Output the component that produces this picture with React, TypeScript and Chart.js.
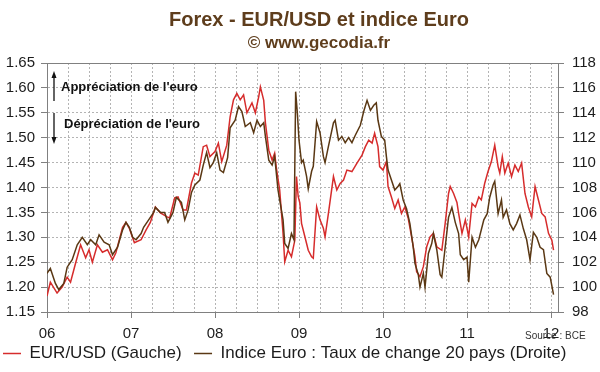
import React, { useEffect, useRef } from "react";
import { Chart, registerables } from "chart.js";

Chart.register(...registerables);

const titleText = "Forex - EUR/USD et indice Euro";
const subtitleText = "© www.gecodia.fr";
const upNote = "Appréciation de l'euro";
const downNote = "Dépréciation de l'euro";
const sourceText = "Source : BCE";
const legendLeft = "EUR/USD (Gauche)";
const legendRight = "Indice Euro : Taux de change 20 pays (Droite)";

const yearLabels = ["06", "07", "08", "09", "10", "11", "12"];
const firstYear = 2006;
const quartersPerYear = 4;

const eurUsdDates = [
  2006.0, 2006.04, 2006.12, 2006.18, 2006.24, 2006.28, 2006.34, 2006.4, 2006.46, 2006.5,
  2006.54, 2006.6, 2006.66, 2006.72, 2006.78, 2006.82, 2006.9, 2006.94, 2006.98, 2007.04,
  2007.12, 2007.18, 2007.23, 2007.29, 2007.35, 2007.43, 2007.46, 2007.52, 2007.56, 2007.62,
  2007.66, 2007.72, 2007.76, 2007.8, 2007.86, 2007.9, 2007.94, 2008.0, 2008.04, 2008.08,
  2008.14, 2008.18, 2008.22, 2008.26, 2008.3, 2008.34, 2008.38, 2008.44, 2008.48, 2008.52,
  2008.54, 2008.58, 2008.6, 2008.64, 2008.68, 2008.71, 2008.73, 2008.77, 2008.81, 2008.83,
  2008.87, 2008.91, 2008.95, 2008.97, 2008.99, 2009.01, 2009.03, 2009.07, 2009.11, 2009.15,
  2009.17, 2009.21, 2009.25, 2009.29, 2009.31, 2009.35, 2009.41, 2009.45, 2009.49, 2009.53,
  2009.57, 2009.63, 2009.69, 2009.75, 2009.79, 2009.83, 2009.87, 2009.9, 2009.94, 2009.96,
  2010.0, 2010.04, 2010.06, 2010.1, 2010.14, 2010.18, 2010.22, 2010.26, 2010.3, 2010.34,
  2010.38, 2010.4, 2010.44, 2010.48, 2010.52, 2010.56, 2010.6, 2010.64, 2010.7, 2010.74,
  2010.78, 2010.8, 2010.84, 2010.88, 2010.9, 2010.94, 2010.98, 2011.02, 2011.06, 2011.1,
  2011.14, 2011.17, 2011.21, 2011.25, 2011.29, 2011.33, 2011.37, 2011.39, 2011.42, 2011.45,
  2011.49, 2011.53, 2011.57, 2011.61, 2011.65, 2011.69, 2011.73, 2011.77, 2011.81, 2011.85,
  2011.89, 2011.93, 2011.97, 2012.01, 2012.03,
];
const eurUsdValues = [
  1.182, 1.21, 1.188, 1.2, 1.22, 1.21, 1.248, 1.285, 1.259, 1.275,
  1.25, 1.285, 1.27, 1.275, 1.255, 1.269, 1.32, 1.33, 1.318, 1.289,
  1.295, 1.315, 1.33, 1.361, 1.349, 1.341, 1.339, 1.379, 1.381, 1.355,
  1.355, 1.409, 1.429, 1.425, 1.482, 1.485, 1.462, 1.472, 1.489, 1.452,
  1.485, 1.542, 1.576, 1.589, 1.576, 1.586, 1.55, 1.57, 1.55, 1.582,
  1.602, 1.575, 1.53, 1.475, 1.455, 1.469, 1.44, 1.395, 1.308, 1.251,
  1.274, 1.261, 1.294, 1.422, 1.382, 1.369, 1.328, 1.301, 1.274, 1.261,
  1.258, 1.361, 1.335, 1.318, 1.301, 1.348, 1.422, 1.395, 1.408, 1.415,
  1.435, 1.432, 1.449, 1.465, 1.482, 1.495, 1.489, 1.509, 1.482, 1.442,
  1.435, 1.452, 1.402, 1.381, 1.358, 1.375, 1.348, 1.361, 1.338, 1.301,
  1.261, 1.231, 1.221, 1.241, 1.281, 1.301, 1.308, 1.281, 1.274, 1.328,
  1.388, 1.402, 1.388, 1.37, 1.348, 1.308, 1.335, 1.301, 1.368, 1.361,
  1.381, 1.375, 1.408, 1.432, 1.452, 1.485, 1.442, 1.429, 1.462, 1.429,
  1.449, 1.422, 1.445, 1.432, 1.449, 1.388, 1.361, 1.341, 1.402, 1.375,
  1.348, 1.341, 1.308, 1.294, 1.274,
];

const indexDates = [
  2006.0, 2006.04, 2006.1, 2006.14, 2006.2, 2006.24, 2006.3, 2006.36, 2006.42, 2006.48,
  2006.52, 2006.58, 2006.62, 2006.68, 2006.74, 2006.78, 2006.84, 2006.9, 2006.94, 2006.98,
  2007.02, 2007.06, 2007.12, 2007.15, 2007.21, 2007.27, 2007.29, 2007.35, 2007.4, 2007.44,
  2007.5, 2007.54, 2007.6, 2007.64, 2007.68, 2007.72, 2007.76, 2007.82, 2007.86, 2007.9,
  2007.94, 2007.98, 2008.02, 2008.06, 2008.1, 2008.15, 2008.18, 2008.24, 2008.28, 2008.32,
  2008.36, 2008.42, 2008.46, 2008.5, 2008.54, 2008.58, 2008.6, 2008.64, 2008.68, 2008.71,
  2008.75, 2008.77, 2008.81, 2008.83, 2008.87, 2008.91, 2008.94, 2008.96, 2008.98, 2009.0,
  2009.03, 2009.05, 2009.09, 2009.11, 2009.15, 2009.17, 2009.21, 2009.25, 2009.29, 2009.31,
  2009.35, 2009.41, 2009.43, 2009.47, 2009.51, 2009.55, 2009.59, 2009.63, 2009.67, 2009.73,
  2009.77, 2009.81, 2009.85, 2009.89, 2009.92, 2009.94, 2009.98, 2010.02, 2010.04, 2010.06,
  2010.1, 2010.14, 2010.18, 2010.2, 2010.24, 2010.28, 2010.32, 2010.36, 2010.38, 2010.42,
  2010.44, 2010.48, 2010.5, 2010.54, 2010.58, 2010.6, 2010.64, 2010.68, 2010.7, 2010.74,
  2010.78, 2010.82, 2010.86, 2010.9, 2010.92, 2010.96, 2011.0, 2011.02, 2011.06, 2011.1,
  2011.14, 2011.2, 2011.24, 2011.27, 2011.31, 2011.33, 2011.37, 2011.41, 2011.43, 2011.47,
  2011.51, 2011.55, 2011.59, 2011.63, 2011.67, 2011.71, 2011.75, 2011.79, 2011.83, 2011.87,
  2011.91, 2011.95, 2011.99, 2012.03,
];
const indexValues = [
  101.1, 101.5, 100.3, 99.8, 100.3, 101.6, 102.2, 103.4, 104.0, 103.4,
  103.8, 103.4, 104.2, 103.6, 103.4, 102.6, 103.2, 104.6, 105.2, 104.8,
  104.0, 103.8, 104.3, 104.8, 105.4, 106.0, 106.4, 106.0, 106.0, 105.2,
  106.0, 107.2, 106.8, 105.4, 106.2, 107.6, 108.2, 108.6, 109.8, 110.8,
  109.6, 110.0, 110.8, 109.4, 109.2, 110.4, 112.8, 113.4, 114.5, 114.1,
  112.9, 113.2, 112.4, 113.4, 112.9, 113.2, 112.1, 110.2, 109.8, 110.5,
  107.8, 107.0, 105.4, 103.5, 103.1, 104.3, 103.8, 115.7, 114.0, 111.8,
  110.0, 110.2, 108.9, 107.9, 109.3, 109.7, 113.3, 112.4, 110.5, 110.0,
  111.3, 113.2, 113.4, 111.8, 112.1, 111.6, 112.0, 111.6, 112.2, 113.0,
  114.1, 115.0, 114.2, 114.6, 114.8, 113.4, 112.1, 111.8, 110.5, 109.4,
  108.6, 107.8, 108.1, 108.3, 107.0, 106.3, 105.1, 103.2, 101.9, 101.0,
  100.0, 101.1, 100.0, 102.7, 103.5, 104.3, 103.0, 101.0, 100.8, 103.2,
  105.6, 106.4, 105.2, 104.3, 102.6, 102.2, 102.4, 100.4, 104.0, 103.2,
  103.8, 105.4, 105.9, 107.2, 108.2, 108.5, 105.9, 107.0, 105.6, 106.2,
  105.1, 104.6, 105.1, 105.8, 104.7, 103.8, 102.2, 104.4, 104.0, 103.2,
  103.0, 101.1, 100.8, 99.4,
];

const FONT = "'Liberation Sans', Arial, Helvetica, sans-serif";
const RED = "#d62c2c";
const BROWN = "#5a3814";
const TITLE_COLOR = "#5e3d1c";
const AXIS_COLOR = "#808080";
const GRID_COLOR = "#b4b4b4";
const TEXT_COLOR = "#1c1c1c";

const isYear = (v: number) => Math.abs(v - Math.round(v)) < 1e-6;

const decorPlugin = {
  id: "decor",
  afterDraw(chart: any) {
    const { ctx, chartArea } = chart;
    ctx.save();
    // top frame line
    ctx.strokeStyle = AXIS_COLOR;
    ctx.lineWidth = 1;
    ctx.beginPath();
    ctx.moveTo(chartArea.left, chartArea.top + 0.5);
    ctx.lineTo(chartArea.right, chartArea.top + 0.5);
    ctx.stroke();

    // titles
    ctx.fillStyle = TITLE_COLOR;
    ctx.textAlign = "center";
    ctx.textBaseline = "middle";
    ctx.font = `bold 20px ${FONT}`;
    ctx.fillText(titleText, 319, 20);
    ctx.font = `bold 17px ${FONT}`;
    ctx.fillText(subtitleText, 319, 43);

    // notes
    const ax = chartArea.left + 7;
    ctx.fillStyle = "#111";
    ctx.strokeStyle = "#111";
    ctx.lineWidth = 1.3;
    ctx.textAlign = "left";
    ctx.font = `bold 13px ${FONT}`;
    ctx.fillText(upNote, chartArea.left + 14, 87);
    ctx.fillText(downNote, chartArea.left + 17, 124);
    ctx.beginPath();
    ctx.moveTo(ax, 101);
    ctx.lineTo(ax, 76);
    ctx.stroke();
    ctx.beginPath();
    ctx.moveTo(ax, 71);
    ctx.lineTo(ax - 2.5, 78);
    ctx.lineTo(ax + 2.5, 78);
    ctx.closePath();
    ctx.fill();
    ctx.beginPath();
    ctx.moveTo(ax, 113);
    ctx.lineTo(ax, 138);
    ctx.stroke();
    ctx.beginPath();
    ctx.moveTo(ax, 144);
    ctx.lineTo(ax - 2.5, 137);
    ctx.lineTo(ax + 2.5, 137);
    ctx.closePath();
    ctx.fill();

    // source
    ctx.fillStyle = "#333";
    ctx.font = `10px ${FONT}`;
    ctx.fillText(sourceText, 525, 336);
    ctx.restore();
  },
};

export default function App() {
  const canvasRef = useRef<HTMLCanvasElement | null>(null);

  useEffect(() => {
    document.body.style.margin = "0";
    const canvas = canvasRef.current;
    if (!canvas) return;

    const eurData = eurUsdDates.map((d, i) => ({ x: d, y: eurUsdValues[i] }));
    const idxData = indexDates.map((d, i) => ({ x: d, y: indexValues[i] }));
    const lastYear = firstYear + yearLabels.length - 1;
    const quarterTicks: { value: number }[] = [];
    for (let k = 0; k <= (lastYear - firstYear) * quartersPerYear; k++) {
      quarterTicks.push({ value: firstYear + k / quartersPerYear });
    }

    const chart = new Chart(canvas, {
      type: "line",
      data: {
        datasets: [
          {
            label: legendLeft + "  ",
            data: eurData,
            borderColor: RED,
            backgroundColor: RED,
            borderWidth: 1.5,
            pointRadius: 0,
            tension: 0,
            yAxisID: "y",
            order: 2,
          },
          {
            label: legendRight,
            data: idxData,
            borderColor: BROWN,
            backgroundColor: BROWN,
            borderWidth: 1.5,
            pointRadius: 0,
            tension: 0,
            yAxisID: "y1",
            order: 1,
          },
        ],
      },
      options: {
        responsive: false,
        animation: false,
        events: [],
        layout: { padding: { top: 63, left: 0, right: 0, bottom: 0 } },
        plugins: {
          title: { display: false },
          tooltip: { enabled: false },
          legend: {
            display: true,
            position: "bottom",
            align: "start",
            labels: {
              usePointStyle: true,
              pointStyle: "line",
              pointStyleWidth: 18,
              padding: 3,
              color: TEXT_COLOR,
              font: { family: FONT, size: 17 },
              sort: (a: any, b: any) => a.datasetIndex - b.datasetIndex,
            },
          },
        },
        scales: {
          x: {
            type: "linear",
            min: 2006,
            max: 2012.083,
            afterBuildTicks: (s: any) => {
              s.ticks = quarterTicks.map((t) => ({ value: t.value }));
            },
            afterFit: (s: any) => {
              s.height = 30;
            },
            ticks: {
              autoSkip: false,
              maxRotation: 0,
              padding: 7,
              color: TEXT_COLOR,
              font: { family: FONT, size: 15 },
              callback: (v: any) => {
                const n = Number(v);
                if (!isYear(n)) return "";
                return yearLabels[Math.round(n) - firstYear] ?? "";
              },
            },
            grid: {
              color: GRID_COLOR,
              lineWidth: 1,
              tickLength: 6,
              tickColor: (c: any) =>
                c.tick && isYear(c.tick.value) ? AXIS_COLOR : "rgba(0,0,0,0)",
            },
            border: { color: AXIS_COLOR, width: 1, dash: [2, 2] },
          },
          y: {
            type: "linear",
            position: "left",
            min: 1.15,
            max: 1.65,
            afterFit: (s: any) => {
              s.width = 47;
            },
            ticks: {
              stepSize: 0.05,
              padding: 6,
              color: TEXT_COLOR,
              font: { family: FONT, size: 15 },
              callback: (v: any) => Number(v).toFixed(2),
            },
            grid: {
              color: GRID_COLOR,
              lineWidth: 1,
              tickLength: 6,
              tickColor: AXIS_COLOR,
            },
            border: { color: AXIS_COLOR, width: 1, dash: [2, 2] },
          },
          y1: {
            type: "linear",
            position: "right",
            min: 98,
            max: 118,
            afterFit: (s: any) => {
              s.width = 42;
            },
            ticks: {
              stepSize: 2,
              padding: 8,
              color: TEXT_COLOR,
              font: { family: FONT, size: 15 },
            },
            grid: {
              drawOnChartArea: false,
              tickLength: 6,
              tickColor: AXIS_COLOR,
            },
            border: { color: AXIS_COLOR, width: 1 },
          },
        },
      },
      plugins: [decorPlugin],
    });

    return () => {
      chart.destroy();
    };
  }, []);

  return (
    <div style={{ width: 600, height: 372, background: "#fff" }}>
      <canvas ref={canvasRef} width={600} height={372} />
    </div>
  );
}
